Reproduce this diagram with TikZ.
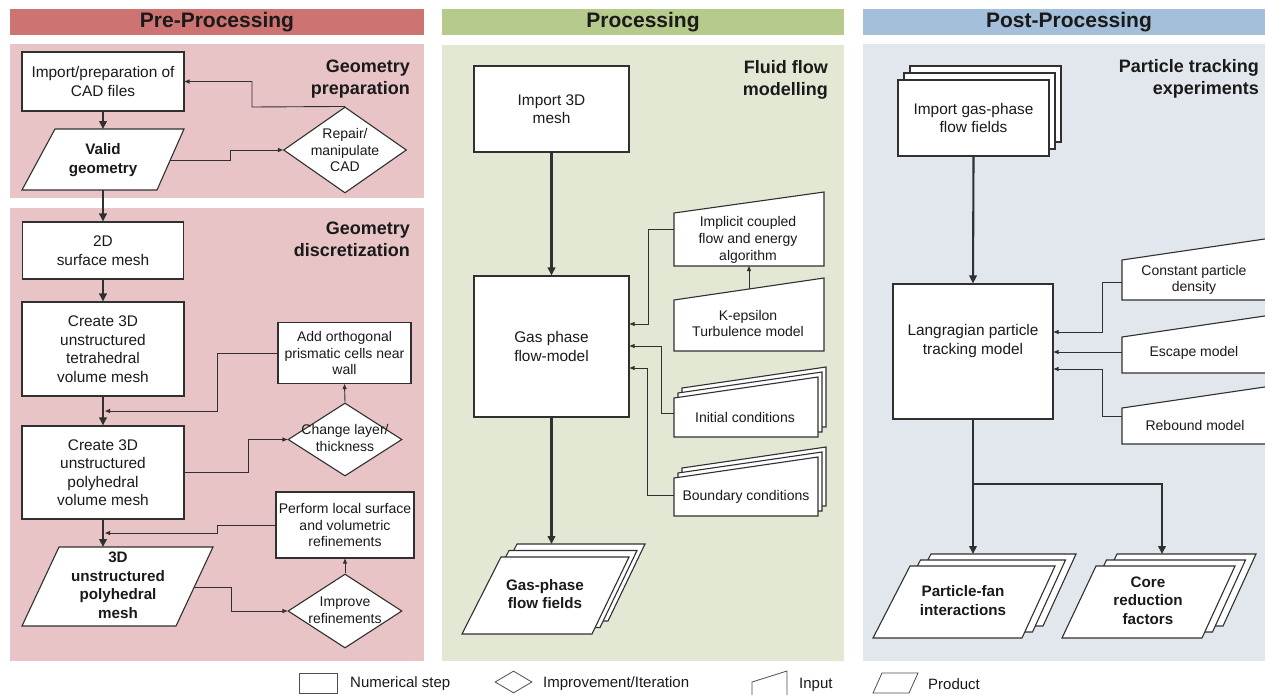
\documentclass[tikz,border=0pt]{standalone}
\usepackage{fontspec}
\setmainfont{Liberation Sans}
\usetikzlibrary{shapes.geometric,arrows.meta}
\definecolor{preH}{HTML}{CD7371}
\definecolor{preP}{HTML}{E8C4C6}
\definecolor{proH}{HTML}{B5CA8B}
\definecolor{proP}{HTML}{E3E8D4}
\definecolor{posH}{HTML}{A3BFD9}
\definecolor{posP}{HTML}{E2E7ED}
\definecolor{ln}{HTML}{303030}
\definecolor{tx}{HTML}{1A1A1A}
\begin{document}
\begin{tikzpicture}[x=1pt,y=-1pt,
  stepbox/.style={draw=ln,line width=1.1pt,fill=white,inner sep=0pt,align=center,font=\fontsize{15.4}{18.5}\selectfont,text=tx},
  smallbox/.style={stepbox,font=\fontsize{14}{16.7}\selectfont},
  txt/.style={inner sep=0pt,align=center,font=\fontsize{15.4}{18.5}\selectfont,text=tx},
  stxt/.style={txt,font=\fontsize{14}{16.7}\selectfont},
  btxt/.style={txt,font=\bfseries\fontsize{15.2}{18.5}\selectfont},
  sect/.style={inner sep=0pt,align=right,anchor=east,font=\bfseries\fontsize{18}{22}\selectfont,text=tx},
  hdr/.style={inner sep=0pt,font=\bfseries\fontsize{21}{24}\selectfont,text=tx},
  shp/.style={draw=ln,line width=1.1pt,fill=white,line join=miter},
  dia/.style={diamond,draw=ln,line width=1.1pt,fill=white,inner sep=0pt},
  main/.style={draw=ln,line width=2.1pt,-{Triangle[length=8pt,width=7.5pt]}},
  conn/.style={draw=ln,line width=0.9pt,-{Triangle[length=5pt,width=4pt]}},
  leg/.style={draw=ln!85,line width=0.8pt,fill=white},
  ltxt/.style={inner sep=0pt,anchor=west,font=\fontsize{15}{18}\selectfont,text=tx}
]
\useasboundingbox (0,0) rectangle (1265,694);
\clip (0,0) rectangle (1265,694);
\fill[white] (0,0) rectangle (1265,694);

% headers and panels
\fill[preH] (10,9) rectangle (424,35);
\node[hdr] (hpre) at (217,22) {Pre-Processing};
\fill[proH] (442,9) rectangle (844,35);
\node[hdr] (hpro) at (643,22) {Processing};
\fill[posH] (863,9) rectangle (1265,35);
\node[hdr] (hpos) at (1069,22) {Post-Processing};

\fill[preP] (10,44) rectangle (424,198);
\fill[preP] (10,208) rectangle (424,661);
\fill[proP] (442,45) rectangle (844,661);
\fill[posP] (863,44) rectangle (1265,661);

\node[sect] (sprep) at (410,79) {Geometry\\preparation};
\node[sect] (sdisc) at (410,239) {Geometry\\discretization};
\node[sect] (sflow) at (828,80) {Fluid flow\\modelling};
\node[sect] (spart) at (1259,79) {Particle tracking\\experiments};

% ---------------- Pre-processing ----------------
\node[stepbox,minimum width=162pt,minimum height=59pt] (imp) at (103,81.5) {Import/preparation of\\CAD files};
\draw[shp] (55,129) -- (184,129) -- (157,190) -- (22,190) -- cycle;
\node[btxt] (valid) at (103,160) {Valid\\geometry};
\coordinate (validT) at (103,129);
\coordinate (validB) at (103,190);
\coordinate (validR) at (170,160);
\node[dia,minimum width=123pt,minimum height=86pt] (repair) at (345,150) {};
\node[stxt] (repairT) at (345,150) {Repair/\\manipulate\\CAD};

\draw[main] (imp.south) -- (validT);
\draw[conn] (validR) -- (230,160) |- (repair.west);
\draw[conn] (repair.north) -- (252,107) |- (imp.east);

\node[stepbox,minimum width=161pt,minimum height=57pt] (surf) at (103,250.5) {2D\\surface mesh};
\node[stepbox,minimum width=162pt,minimum height=94pt] (tet) at (103,349) {Create 3D\\unstructured\\tetrahedral\\volume mesh};
\node[stepbox,minimum width=162pt,minimum height=93pt] (poly) at (103,472.5) {Create 3D\\unstructured\\polyhedral\\volume mesh};
\node[smallbox,minimum width=133pt,minimum height=61pt] (orth) at (344.5,353) {Add orthogonal\\prismatic cells near\\wall};
\node[dia,minimum width=114pt,minimum height=73pt] (chg) at (345,439.5) {};
\node[stxt] (chgT) at (345,438) {Change layer/\\thickness};
\node[smallbox,minimum width=138pt,minimum height=66pt] (perf) at (345,525) {Perform local surface\\and volumetric\\refinements};
\draw[shp] (59,547) -- (213,547) -- (176,626) -- (22,626) -- cycle;
\node[btxt] (pmesh) at (118,585.5) {3D\\unstructured\\polyhedral\\mesh};
\coordinate (pmT) at (103,547);
\coordinate (pmR) at (194,587);
\node[dia,minimum width=114pt,minimum height=74pt] (improve) at (345,611) {};
\node[stxt] (improveT) at (345,610) {Improve\\refinements};

\draw[main] (validB) -- (surf.north);
\draw[main] (surf.south) -- (tet.north);
\draw[main] (tet.south) -- (poly.north);
\draw[main] (poly.south) -- (pmT);
\coordinate (j1) at (105,411);
\coordinate (j2) at (105,533);
\draw[conn] (poly.east) -- (248,472.5) |- (chg.west);
\draw[conn] (chg.north) -- (orth.south);
\draw[conn] (orth.west) -- (217,353) |- (j1);
\draw[conn] (pmR) -- (231,587) |- (improve.west);
\draw[conn] (improve.north) -- (perf.south);
\draw[conn] (perf.west) -- (217,525) |- (j2);

% ---------------- Processing ----------------
\node[stepbox,minimum width=155pt,minimum height=86pt] (imp3d) at (551.5,109) {Import 3D\\mesh};
\node[stepbox,minimum width=155pt,minimum height=141pt] (gas) at (551.5,346.5) {Gas phase\\flow-model};
\draw[main] (imp3d.south) -- (gas.north);

\draw[shp] (674,266) -- (674,213) -- (824,192) -- (824,266) -- cycle;
\node[stxt] (impl) at (748,240) {Implicit coupled\\flow and energy\\algorithm};
\coordinate (implL) at (674,229);
\coordinate (implB) at (749,266);
\draw[shp] (674,351) -- (674,300) -- (824,278) -- (824,351) -- cycle;
\node[stxt] (keps) at (748,323.5) {K-epsilon\\Turbulence model};
\coordinate (kepsT) at (749,289);
\draw[conn] (kepsT) -- (implB);

\foreach \s in {2,1,0}
  \draw[shp,shift={(4*\s,-5*\s)}] (674,437) -- (674,398) -- (818,377) -- (818,437) -- cycle;
\node[stxt] (init) at (745,417) {Initial conditions};
\coordinate (initL) at (674,413);
\foreach \s in {2,1,0}
  \draw[shp,shift={(4*\s,-5*\s)}] (674,516) -- (674,478) -- (818,457) -- (818,516) -- cycle;
\node[stxt] (bnd) at (746,497) {Boundary conditions};
\coordinate (bndL) at (674,495);

\draw[conn] (implL) -- (648,229) |- (gas.east |- 0,324);
\draw[conn] (initL) -- (661,413) |- (gas.east |- 0,346);
\draw[conn] (bndL) -- (647,495) |- (gas.east |- 0,368);

\foreach \s in {2,1,0}
  \draw[shp,shift={(8*\s,-6.5*\s)}] (501,557) -- (629,557) -- (592,634) -- (462,634) -- cycle;
\node[btxt] (gff) at (545,594) {Gas-phase\\flow fields};
\coordinate (gffT) at (551.5,544);
\draw[main] (gas.south) -- (gffT);

% ---------------- Post-processing ----------------
\foreach \s in {2,1}
  \draw[shp,shift={(6*\s,-7*\s)}] (898,80) rectangle (1049,156);
\node[stepbox,minimum width=151pt,minimum height=76pt] (impgas) at (973.5,118) {Import gas-phase\\flow fields};
\node[stepbox,minimum width=160pt,minimum height=135pt] (lang) at (973,351.5) {};
\node[txt] (langT) at (973,341) {Langragian particle\\tracking model};
\draw[main] (impgas.south) -- (lang.north);

\draw[shp] (1122,300) -- (1122,260) -- (1285,236) -- (1285,300) -- cycle;
\node[stxt] (const) at (1194,280) {Constant particle\\density};
\coordinate (constL) at (1122,282);
\draw[shp] (1122,373) -- (1122,337) -- (1285,313) -- (1285,373) -- cycle;
\node[stxt] (esc) at (1194,353) {Escape model};
\coordinate (escL) at (1122,352);
\draw[shp] (1122,444) -- (1122,408) -- (1285,384) -- (1285,444) -- cycle;
\node[stxt] (reb) at (1195,425) {Rebound model};
\coordinate (rebL) at (1122,416);

\draw[conn] (constL) -- (1102,282) |- (lang.east |- 0,332);
\draw[conn] (escL) -- (lang.east |- escL);
\draw[conn] (rebL) -- (1102,416) |- (lang.east |- 0,369);

\foreach \s in {2,1,0}
  \draw[shp,shift={(10.5*\s,-6*\s)}] (910,566) -- (1055,566) -- (1022,638) -- (873,638) -- cycle;
\node[btxt] (pfan) at (963,600.5) {Particle-fan\\interactions};
\foreach \s in {2,1,0}
  \draw[shp,shift={(10.5*\s,-6*\s)}] (1096,566) -- (1235,566) -- (1202,638) -- (1062,638) -- cycle;
\node[btxt] (core) at (1148,600.5) {Core\\reduction\\factors};
\coordinate (br) at (973,484);
\coordinate (pfT) at (973,554);
\coordinate (coreT) at (1162,554);
\draw[draw=ln,line width=2.1pt] (lang.south) -- (br);
\draw[main] (br) -- (pfT);
\draw[main] (br) -| (coreT);

% ---------------- Legend ----------------
\node[leg,minimum width=38pt,minimum height=20pt,inner sep=0pt] (lrect) at (318,683) {};
\node[ltxt] (lrectT) at (350,684) {Numerical step};
\node[leg,diamond,minimum width=37pt,minimum height=22pt,inner sep=0pt] (ldia) at (513.5,682) {};
\node[ltxt] (ldiaT) at (543,684) {Improvement/Iteration};
\draw[leg] (752,700) -- (752,682) -- (787,671) -- (787,700);
\node[ltxt] (linT) at (799,685) {Input};
\draw[leg] (882,673) -- (918,673) -- (909,693) -- (873,693) -- cycle;
\node[ltxt] (lprT) at (928,684) {Product};
\end{tikzpicture}
\end{document}
